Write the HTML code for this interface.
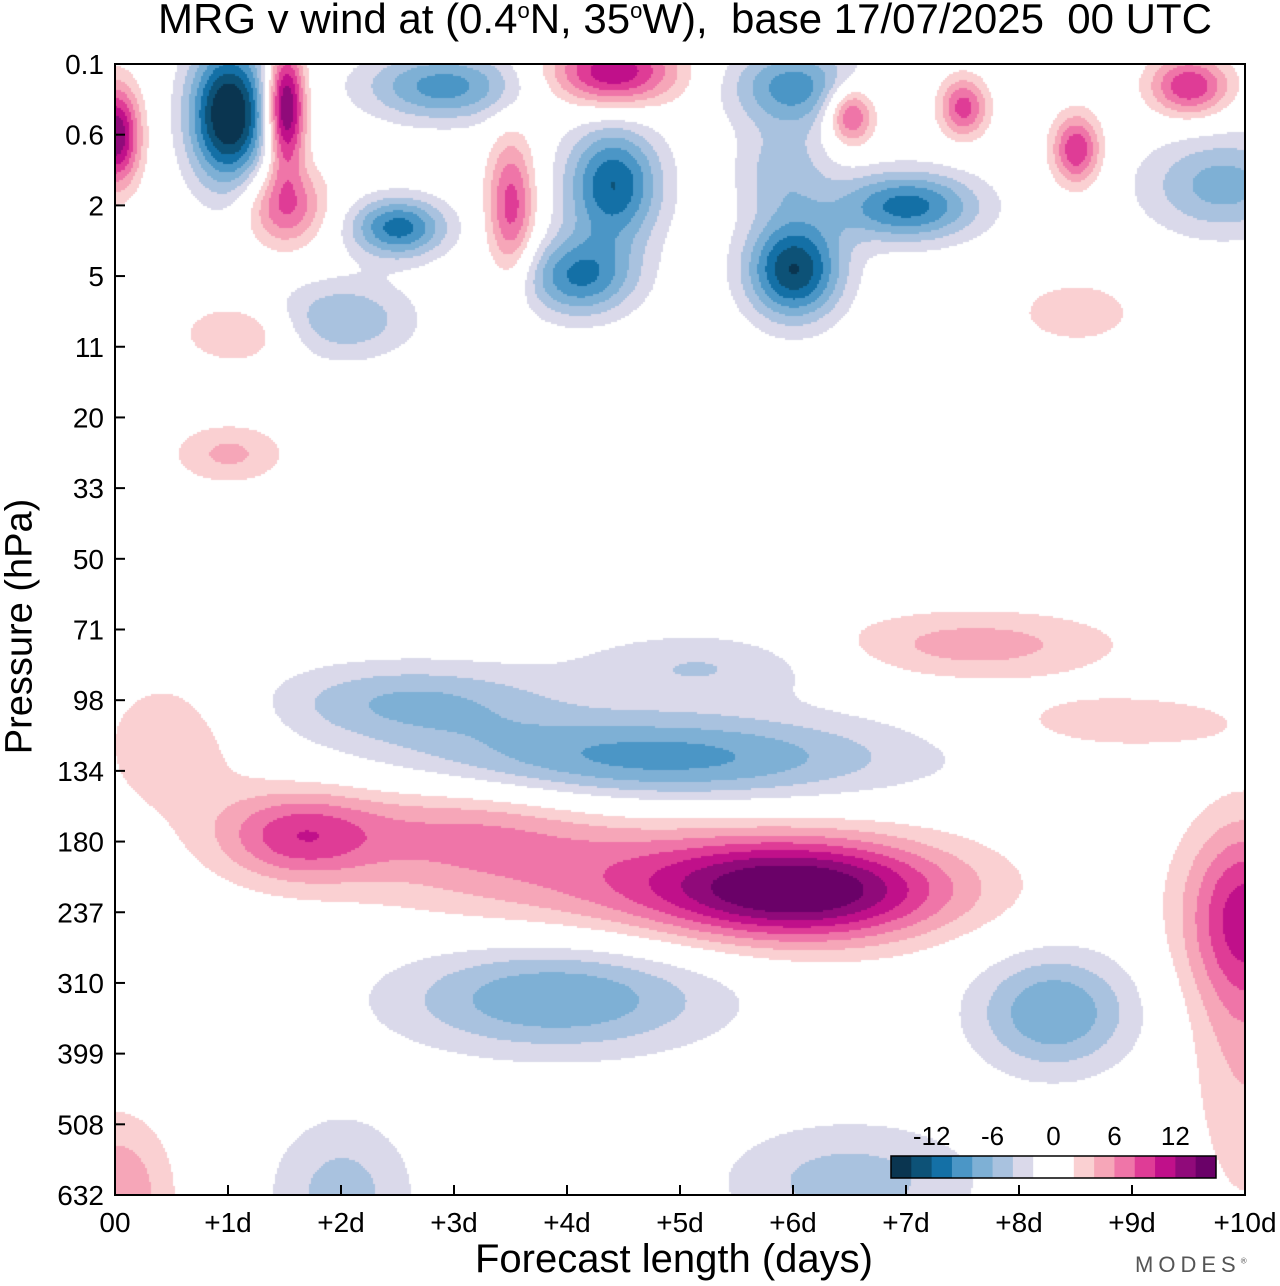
<!DOCTYPE html>
<html><head><meta charset="utf-8">
<style>
body{margin:0;background:#fff;width:1280px;height:1286px;overflow:hidden;font-family:"Liberation Sans",sans-serif;}
#wrap{position:relative;width:1280px;height:1286px;}
.t{position:absolute;color:#000;white-space:nowrap;}
canvas{position:absolute;left:115px;top:64px;}
</style></head>
<body>
<div id="wrap">
<div class="t" style="left:158px;top:-5px;font-size:42px;">MRG v wind at (0.4<sup style="font-size:22px">o</sup>N, 35<sup style="font-size:22px">o</sup>W),&nbsp; base 17/07/2025&nbsp; 00 UTC</div>
<canvas id="cv" width="1130" height="1131"></canvas>
<svg id="ax" width="1280" height="1286" style="position:absolute;left:0;top:0"></svg>
<div class="t" style="left:-110px;top:605px;font-size:38px;transform:rotate(-90deg);width:260px;text-align:center;">Pressure (hPa)</div>
<div class="t" style="left:475px;top:1237px;font-size:40px;">Forecast length (days)</div>
<div class="t" style="left:1135px;top:1252px;font-size:22px;letter-spacing:5px;color:#555;">MODES<sup style="font-size:8px">®</sup></div>
</div>
<script>
const xLabels=["00","+1d","+2d","+3d","+4d","+5d","+6d","+7d","+8d","+9d","+10d"];
const yLabels=["0.1","0.6","2","5","11","20","33","50","71","98","134","180","237","310","399","508","632"];
const levels=[-16,-14,-12,-10,-8,-6,-4,-2,2,4,6,8,10,12,14,16];
const colors=["#0a3550","#0d5277","#1470a6","#4b96c6","#7eb0d5","#a9c2df","#dad9ea","#ffffff","#fad0d2","#f6a6b8","#ef75a8","#df3c96","#c0108a","#900a7a","#6a0168"];
const cbLabels=["-12","-6","0","6","12"];
// blobs: day, level index (0 = 0.1 hPa top, 16 = 632 hPa), amplitude (m/s), spread days, spread levels
const blobDay=[6.1,4.8,1.6,10.0,0.5,3.0,4.8,2.6,3.9,8.3,6.5,2.0,0.0,7.6,10.0,8.9,5.2,
 1.0,1.5,0.0,2.9,4.4,6.0,3.5,4.4,2.5,4.1,6.0,7.0,1.5,6.5,7.5,8.5,9.5,9.8,2.0,1.1,1.0,8.5,5.9];
const blobLev=[11.7,11.5,10.9,12.0,9.6,10.8,9.8,9.0,13.2,13.4,15.8,16.0,16.0,8.2,13.8,9.3,8.5,
 0.7,0.6,1.0,0.3,0.1,0.3,2.0,1.7,2.3,3.0,2.9,2.0,2.0,0.7,0.6,1.2,0.3,1.7,3.6,3.8,5.5,3.5,1.5];
const blobAmp=[13,6,8,9,3.5,5,-9,-6,-8,-8,-5,-5,6,5,4,3.5,-4,
 -17,16,14,-9,12,-9,9,-12,-11,-10,-14,-11,8,10,9,10,10,-7,-6,4.5,4.5,4,-5];
const blobSx=[0.9,1.6,0.5,0.4,0.5,0.9,1.5,0.9,1.0,0.5,0.8,0.45,0.35,0.9,0.35,0.8,0.8,
 0.25,0.12,0.15,0.5,0.4,0.4,0.15,0.3,0.3,0.35,0.3,0.45,0.25,0.15,0.15,0.15,0.25,0.5,0.45,0.35,0.35,0.35,0.3];
const blobSy=[0.5,0.6,0.45,0.9,0.8,0.5,0.45,0.4,0.55,0.6,0.6,0.8,0.8,0.35,1.8,0.3,0.35,
 0.7,0.6,0.5,0.35,0.35,0.4,0.7,0.6,0.3,0.4,0.5,0.35,0.4,0.3,0.3,0.35,0.3,0.5,0.4,0.3,0.3,0.3,0.5];

const X0=115,X1=1245,Y0=64,Y1=1195;
const xs=d=>X0+(X1-X0)*d/10;
const ys=l=>Y0+(Y1-Y0)*l/16;

const cv=document.getElementById('cv');const ctx=cv.getContext('2d');
const W=cv.width,H=cv.height;const img=ctx.createImageData(W,H);
const rgb=colors.map(c=>[parseInt(c.slice(1,3),16),parseInt(c.slice(3,5),16),parseInt(c.slice(5,7),16)]);
const S=2;
for(let py=0;py<H;py+=S){const lev=py/(H)*16;
 for(let px=0;px<W;px+=S){const day=px/W*10;let v=0;
  for(let i=0;i<blobDay.length;i++){const dx=(day-blobDay[i])/blobSx[i],dy=(lev-blobLev[i])/blobSy[i];const r=dx*dx+dy*dy;if(r<16)v+=blobAmp[i]*Math.exp(-r/2);}
  let k=7;for(let j=0;j<colors.length;j++){if(v>=levels[j]&&v<levels[j+1]){k=j;break;}}
  if(v<levels[0])k=0;if(v>=levels[levels.length-1])k=colors.length-1;
  const c=rgb[k];
  for(let a=0;a<S&&py+a<H;a++)for(let b=0;b<S&&px+b<W;b++){const o=((py+a)*W+px+b)*4;img.data[o]=c[0];img.data[o+1]=c[1];img.data[o+2]=c[2];img.data[o+3]=255;}
 }}
ctx.putImageData(img,0,0);

const NS='http://www.w3.org/2000/svg';const svg=document.getElementById('ax');
function mk(t,a){const e=document.createElementNS(NS,t);for(const k in a)e.setAttribute(k,a[k]);svg.appendChild(e);return e;}
const fr=mk('rect',{x:X0,y:Y0,width:X1-X0,height:Y1-Y0,fill:'none',stroke:'#000','stroke-width':2});


xLabels.forEach((s,i)=>{const x=xs(i);
 const l=mk('line',{x1:x,x2:x,y1:Y1,y2:Y1-10,stroke:'#000','stroke-width':2});
 
 
 const t=mk('text',{x:x,y:1232,'font-size':28,'text-anchor':'middle','font-family':'Liberation Sans'});t.textContent=s;
 
 });
yLabels.forEach((s,i)=>{const y=ys(i);
 const l=mk('line',{x1:X0,x2:X0+10,y1:y,y2:y,stroke:'#000','stroke-width':2});
 
 
 const t=mk('text',{x:104,y:y+10,'font-size':28,'text-anchor':'end','font-family':'Liberation Sans'});t.textContent=s;
 
 });
const cbx=891,cbw=325,cby=1156,cbh=22;const cs=v=>cbx+(v-levels[0])/(levels[levels.length-1]-levels[0])*cbw;
colors.forEach((c,j)=>{const r=mk('rect',{x:cs(levels[j]),y:cby,width:cs(levels[j+1])-cs(levels[j])+0.5,height:cbh,fill:c});
 
 });
const cb=mk('rect',{x:cbx,y:cby,width:cbw,height:cbh,fill:'none',stroke:'#000','stroke-width':1.5});


cbLabels.forEach(s=>{const t=mk('text',{x:cs(+s),y:1145,'font-size':26,'text-anchor':'middle','font-family':'Liberation Sans'});t.textContent=s;
 
 });
</script>
</body></html>
